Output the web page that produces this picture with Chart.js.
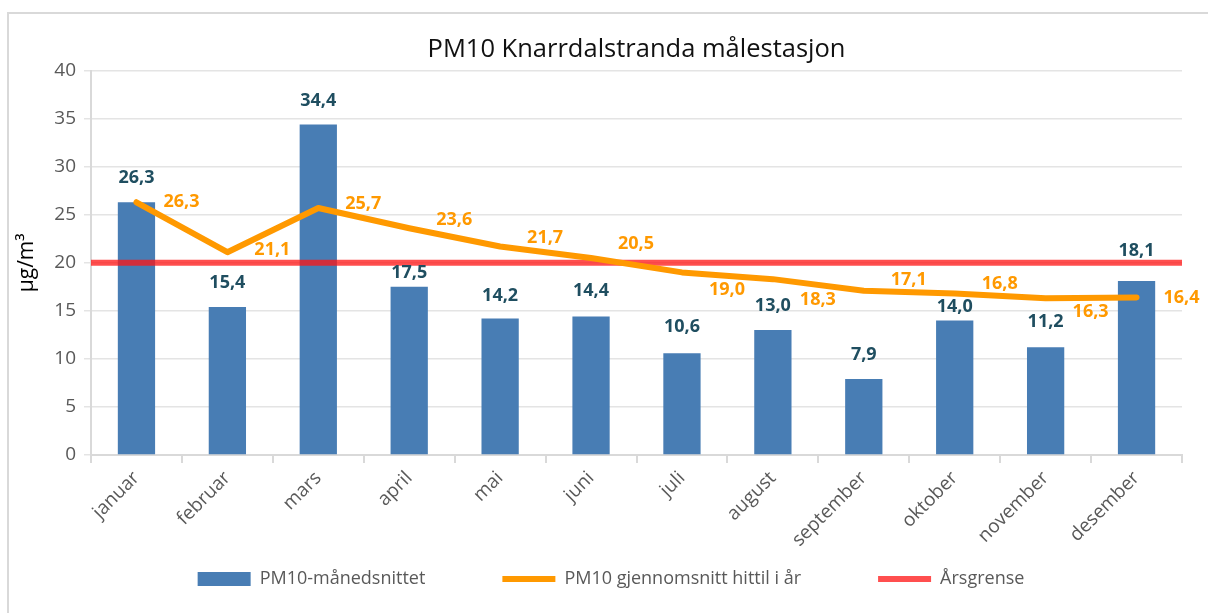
<!DOCTYPE html>
<html>
<head>
<meta charset="utf-8">
<script src="https://cdn.jsdelivr.net/npm/chart.js@4.4.1/dist/chart.umd.min.js"></script>
<style>
  html, body { margin: 0; padding: 0; background: #ffffff; }
  #wrap { width: 1208px; height: 613px; position: relative; }
</style>
</head>
<body>
<div id="wrap"><canvas id="c" width="1208" height="613"></canvas></div>
<script>
const months = ['januar','februar','mars','april','mai','juni','juli','august','september','oktober','november','desember'];
const monthlyPM10 = [26.3, 15.4, 34.4, 17.5, 14.2, 14.4, 10.6, 13.0, 7.9, 14.0, 11.2, 18.1];
const runningAvgPM10 = [26.3, 21.1, 25.7, 23.6, 21.7, 20.5, 19.0, 18.3, 17.1, 16.8, 16.3, 16.4];
const annualLimit = 20;
const yTicks = [0, 5, 10, 15, 20, 25, 30, 35, 40];
const seriesNames = ['PM10-månedsnittet', 'PM10 gjennomsnitt hittil i år', 'Årsgrense'];
const chartTitle = 'PM10 Knarrdalstranda målestasjon';
const yTitle = 'µg/m³';

const BAR = '#487db4';
const ORANGE = '#ff9900';
const RED = 'rgba(255,20,20,0.75)';
const FONT = "'Open Sans', 'DejaVu Sans', sans-serif";
const fmt = v => v.toFixed(1).replace('.', ',');

// per-label nudges (layout only, as placed in the original)
const barLabelDy = [-24, -24, -24, -14, -23, -26, -26, -24, -24, -14, -25, -30];
const avgLabelDy = [0, -2, -4, -8, -9, -14, 17, 21, -11, -10, 14, 0];

const framePlugin = {
  id: 'frame',
  afterLayout(chart) {
    // place the library legend row like the original (only moved)
    const lg = chart.legend;
    if (lg) {
      lg.top = 493;
      lg.bottom = chart.height;
      lg.height = lg.bottom - lg.top;
      lg.left += 15;
      lg.right += 15;
    }
  },
  beforeDraw(chart) {
    const ctx = chart.ctx;
    ctx.save();
    ctx.fillStyle = '#ffffff';
    ctx.fillRect(0, 0, chart.width, chart.height);
    ctx.strokeStyle = '#d9d9d9';
    ctx.lineWidth = 2;
    ctx.beginPath();
    ctx.moveTo(8, chart.height);
    ctx.lineTo(8, 13);
    ctx.lineTo(chart.width, 13);
    ctx.stroke();
    ctx.restore();
  }
};

const labelPlugin = {
  id: 'valueLabels',
  afterDatasetsDraw(chart) {
    const ctx = chart.ctx;
    ctx.save();
    ctx.font = "bold 18px " + FONT;
    ctx.textAlign = 'center';
    ctx.textBaseline = 'middle';
    const barMeta = chart.getDatasetMeta(0);
    ctx.fillStyle = '#1f4e60';
    barMeta.data.forEach((el, i) => {
      ctx.fillText(fmt(monthlyPM10[i]), el.x, el.y + barLabelDy[i]);
    });
    const lineMeta = chart.getDatasetMeta(1);
    ctx.fillStyle = ORANGE;
    lineMeta.data.forEach((el, i) => {
      ctx.fillText(fmt(runningAvgPM10[i]), el.x + 45, el.y + avgLabelDy[i]);
    });
    ctx.restore();
  }
};

new Chart(document.getElementById('c'), {
  type: 'bar',
  data: {
    labels: months,
    datasets: [
      {
        type: 'bar',
        label: seriesNames[0],
        data: monthlyPM10,
        backgroundColor: BAR,
        borderWidth: 0,
        grouped: false,
        categoryPercentage: 1.0,
        barPercentage: 0.41,
        order: 3
      },
      {
        type: 'line',
        label: seriesNames[1],
        data: runningAvgPM10,
        borderColor: ORANGE,
        backgroundColor: ORANGE,
        borderWidth: 6,
        pointRadius: 0,
        borderCapStyle: 'round',
        borderJoinStyle: 'round',
        tension: 0,
        order: 1
      },
      {
        type: 'line',
        label: seriesNames[2],
        xAxisID: 'xLimit',
        data: [{x: 0, y: annualLimit}, {x: 1, y: annualLimit}],
        borderColor: RED,
        backgroundColor: RED,
        borderWidth: 6,
        pointRadius: 0,
        order: 2
      }
    ]
  },
  options: {
    responsive: false,
    animation: false,
    layout: { padding: { left: 10, right: 26, top: 0, bottom: 0 } },
    plugins: {
      tooltip: { enabled: false },
      title: {
        display: true,
        fullSize: false,
        text: chartTitle,
        color: '#111111',
        font: { family: FONT, size: 25.5, weight: 'normal' },
        padding: { top: 34, bottom: 6 }
      },
      legend: {
        display: true,
        position: 'bottom',
        maxHeight: 20,
        labels: {
          color: '#595959',
          font: { family: FONT, size: 18 },
          usePointStyle: true,
          pointStyleWidth: 53,
          boxWidth: 53,
          boxHeight: 14,
          padding: 77,
          generateLabels(chart) {
            return chart.data.datasets.map((ds, i) => ({
              text: ds.label,
              datasetIndex: i,
              fillStyle: i === 0 ? BAR : ds.borderColor,
              strokeStyle: i === 0 ? BAR : ds.borderColor,
              lineWidth: i === 0 ? 0 : 6,
              pointStyle: i === 0 ? 'rect' : 'line',
              fontColor: '#595959',
              hidden: false
            }));
          }
        }
      }
    },
    scales: {
      x: {
        type: 'category',
        offset: true,
        grid: {
          display: true,
          offset: true,
          drawOnChartArea: false,
          drawTicks: true,
          tickLength: 8,
          color: '#d9d9d9',
          lineWidth: 2
        },
        border: { display: true, color: '#d9d9d9', width: 2 },
        ticks: {
          color: '#595959',
          font: { family: FONT, size: 19 },
          minRotation: 45,
          maxRotation: 45,
          padding: 4,
          autoSkip: false
        },
        afterFit(scale) { scale.height = 138; }
      },
      xLimit: {
        type: 'linear',
        display: false,
        min: 0,
        max: 1,
        offset: false
      },
      y: {
        type: 'linear',
        min: 0,
        max: 40,
        afterBuildTicks(scale) { scale.ticks = yTicks.map(v => ({ value: v })); },
        grid: {
          color: '#e4e4e4',
          lineWidth: 1.5,
          drawTicks: true,
          tickLength: 7
        },
        border: { display: true, color: '#d9d9d9', width: 2 },
        ticks: {
          color: '#595959',
          font: { family: FONT, size: 19 },
          padding: 8
        },
        title: {
          display: true,
          text: yTitle,
          color: '#000000',
          font: { family: FONT, size: 21 },
          padding: { top: 4, bottom: 0 }
        },
        afterFit(scale) { scale.width = 81; }
      }
    }
  },
  plugins: [framePlugin, labelPlugin]
});
</script>
</body>
</html>
